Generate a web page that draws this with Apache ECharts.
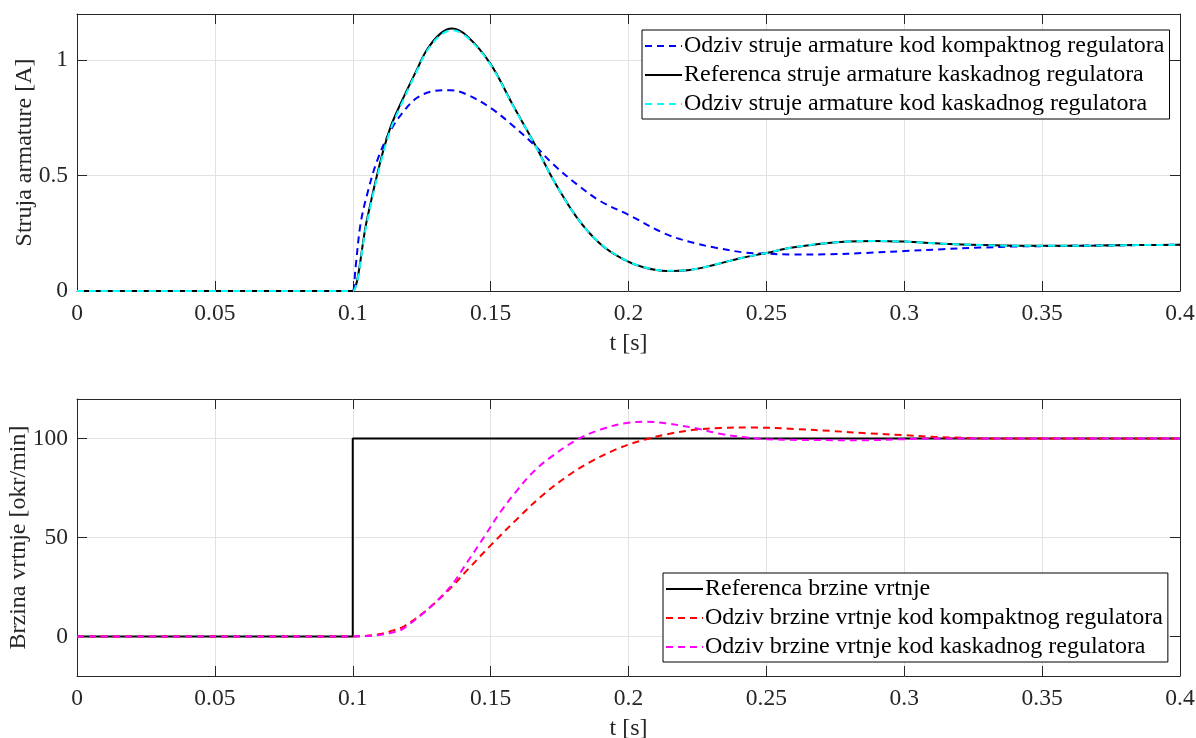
<!DOCTYPE html>
<html>
<head>
<meta charset="utf-8">
<script src="https://cdn.jsdelivr.net/npm/echarts@6/dist/echarts.min.js"></script>
<style>
html,body{margin:0;padding:0;background:#fff;}
#chart{width:1196px;height:738px;}
</style>
</head>
<body>
<div id="chart"></div>
<script>
// ---- Data ----
const xTicks = [0, 0.05, 0.1, 0.15, 0.2, 0.25, 0.3, 0.35, 0.4];

// Top: armature current [A]
const compactCurT = [0, 0.099, 0.1, 0.101, 0.1028, 0.1052, 0.1088, 0.1136, 0.1185, 0.1233, 0.1293, 0.1354, 0.1414, 0.1499, 0.1583, 0.1656, 0.1728, 0.1813, 0.1897, 0.2, 0.2139, 0.2248, 0.2313, 0.2425, 0.25, 0.2588, 0.2726, 0.286, 0.3, 0.3139, 0.3277, 0.341, 0.355, 0.37, 0.385, 0.4];
const compactCurV = [0, 0, 0, 0.10, 0.289, 0.418, 0.563, 0.693, 0.779, 0.837, 0.866, 0.870, 0.851, 0.794, 0.714, 0.635, 0.548, 0.462, 0.390, 0.33, 0.245, 0.205, 0.188, 0.166, 0.162, 0.158, 0.159, 0.165, 0.173, 0.181, 0.188, 0.193, 0.195, 0.197, 0.199, 0.2];

const cascRefCurT = [0, 0.099, 0.1, 0.105, 0.110, 0.1137, 0.1173, 0.1233, 0.1269, 0.1318, 0.136, 0.1414, 0.1499, 0.1583, 0.1656, 0.1728, 0.1813, 0.1897, 0.1982, 0.2054, 0.2139, 0.2216, 0.2313, 0.2409, 0.2501, 0.2588, 0.2698, 0.2795, 0.2891, 0.3001, 0.3139, 0.3277, 0.3415, 0.355, 0.37, 0.385, 0.4];
const cascRefCurV = [0, 0, 0, 0.30, 0.56, 0.71, 0.81, 0.96, 1.045, 1.115, 1.137, 1.105, 0.985, 0.80, 0.645, 0.48, 0.318, 0.205, 0.137, 0.103, 0.087, 0.090, 0.114, 0.143, 0.165, 0.187, 0.205, 0.214, 0.217, 0.214, 0.205, 0.199, 0.196, 0.196, 0.197, 0.199, 0.2];

const cascRespCurT = [0, 0.099, 0.1, 0.105, 0.110, 0.1137, 0.1173, 0.1233, 0.1269, 0.1318, 0.136, 0.1414, 0.1499, 0.1583, 0.1656, 0.1728, 0.1813, 0.1897, 0.1982, 0.2054, 0.2139, 0.2216, 0.2313, 0.2409, 0.2501, 0.2588, 0.2698, 0.2795, 0.2891, 0.3001, 0.3139, 0.3277, 0.3415, 0.355, 0.37, 0.385, 0.4];
const cascRespCurV = [0, 0, 0, 0.29, 0.55, 0.70, 0.80, 0.955, 1.04, 1.108, 1.130, 1.100, 0.982, 0.798, 0.644, 0.48, 0.318, 0.206, 0.138, 0.104, 0.088, 0.091, 0.114, 0.143, 0.165, 0.187, 0.205, 0.214, 0.217, 0.214, 0.205, 0.199, 0.196, 0.196, 0.197, 0.199, 0.2];

// Bottom: speed [okr/min]
const refSpeedT = [0, 0.1, 0.1, 0.4];
const refSpeedV = [0, 0, 100, 100];

const compactSpeedT = [0, 0.1, 0.105, 0.11, 0.115, 0.1186, 0.127, 0.1355, 0.1415, 0.15, 0.1597, 0.1681, 0.1778, 0.1862, 0.1959, 0.2043, 0.214, 0.2237, 0.2333, 0.2442, 0.2611, 0.2741, 0.2863, 0.3, 0.3106, 0.3227, 0.3348, 0.4];
const compactSpeedV = [0, 0, 0.3, 1.2, 3.2, 5.1, 13.5, 24.5, 33.5, 46.0, 59.5, 70.5, 81.0, 88.2, 94.8, 98.8, 102.2, 104.4, 105.4, 105.6, 104.8, 103.8, 102.7, 101.7, 100.9, 100.3, 100, 100];

const cascSpeedT = [0, 0.1, 0.105, 0.11, 0.116, 0.1186, 0.127, 0.1355, 0.1415, 0.1476, 0.1536, 0.1597, 0.1657, 0.1717, 0.1814, 0.1899, 0.1994, 0.2068, 0.214, 0.2237, 0.2333, 0.243, 0.2502, 0.2611, 0.2863, 0.3, 0.31, 0.4];
const cascSpeedV = [0, 0, 0.2, 0.8, 2.5, 4.2, 13.5, 25.3, 37.5, 50.2, 63.0, 74.0, 83.5, 90.5, 99.5, 104.6, 107.9, 108.5, 107.6, 105.4, 102.4, 100.5, 99.7, 99.3, 99.2, 99.7, 100, 100];

const namesTop = ['Odziv struje armature kod kompaktnog regulatora', 'Referenca struje armature kaskadnog regulatora', 'Odziv struje armature kod kaskadnog regulatora'];
const namesBottom = ['Referenca brzine vrtnje', 'Odziv brzine vrtnje kod kompaktnog regulatora', 'Odziv brzine vrtnje kod kaskadnog regulatora'];

// ---- Helpers ----
const zip = (t, v) => t.map((x, i) => [x, v[i]]);
const FONT = 'Liberation Serif';
const AX = '#262626';
const GRIDC = '#e2e2e2';
const TICKFS = 23.5;
const NAMEFS = 24;
const fmtX = v => String(+v.toFixed(2));

function xAxisPair(gi) {
  return [{
    type: 'value', gridIndex: gi, min: xTicks[0], max: xTicks[xTicks.length - 1], interval: 0.05, position: 'bottom',
    axisLine: {show: true, onZero: false, lineStyle: {color: AX, width: 1}},
    axisTick: {show: true, inside: true, length: 10, lineStyle: {color: AX}},
    axisLabel: {color: AX, fontFamily: FONT, fontSize: TICKFS, margin: 11, formatter: fmtX},
    splitLine: {show: true, lineStyle: {color: GRIDC, width: 1}},
    name: 't [s]', nameLocation: 'middle', nameGap: 41, nameMoveOverlap: false,
    nameTextStyle: {color: AX, fontFamily: FONT, fontSize: NAMEFS}
  }, {
    type: 'value', gridIndex: gi, min: xTicks[0], max: xTicks[xTicks.length - 1], interval: 0.05, position: 'top',
    axisLine: {show: true, onZero: false, lineStyle: {color: AX, width: 1}},
    axisTick: {show: true, inside: true, length: 10, lineStyle: {color: AX}},
    axisLabel: {show: false}, splitLine: {show: false}
  }];
}
function yAxisPair(gi, min, max, scaleOpt, name, fmt, gap) {
  const base = {
    type: 'value', gridIndex: gi, min: min, max: max,
    axisLine: {show: true, onZero: false, lineStyle: {color: AX, width: 1}},
    axisTick: {show: true, inside: true, length: 10, lineStyle: {color: AX}}
  };
  return [Object.assign({}, base, scaleOpt, {
    position: 'left',
    axisLabel: {color: AX, fontFamily: FONT, fontSize: TICKFS, margin: 9, showMinLabel: min === 0, showMaxLabel: false, formatter: fmt},
    splitLine: {show: true, lineStyle: {color: GRIDC, width: 1}},
    name: name, nameLocation: 'middle', nameGap: gap, nameRotate: 90, nameMoveOverlap: false,
    nameTextStyle: {color: AX, fontFamily: FONT, fontSize: NAMEFS}
  }), Object.assign({}, base, scaleOpt, {
    position: 'right',
    axisLabel: {show: false}, splitLine: {show: false}
  })];
}

const DASH = [7, 5];
function line(name, data, color, dashed, xi, yi, z) {
  return {
    type: 'line', name: name, data: data, xAxisIndex: xi, yAxisIndex: yi,
    symbol: 'none', showSymbol: false, smooth: 0.35, z: z,
    lineStyle: {color: color, width: 2, type: dashed ? DASH : 'solid'},
    itemStyle: {color: color}, animation: false
  };
}

const chart = echarts.init(document.getElementById('chart'), null, {renderer: 'canvas'});
const xs = xAxisPair(0).concat(xAxisPair(1));
const ys = yAxisPair(0, 0, 1.2, {interval: 0.5}, 'Struja armature [A]', v => String(+v.toFixed(2)), 40)
  .concat(yAxisPair(1, -20, 120, {splitNumber: 3}, 'Brzina vrtnje [okr/min]', v => String(Math.round(v)), 46));

const refSeries = line(namesBottom[0], zip(refSpeedT, refSpeedV), '#000000', false, 2, 2, 3);
refSeries.smooth = false;

const legendBase = {
  orient: 'vertical',
  backgroundColor: '#fff', borderColor: '#000', borderWidth: 1,
  padding: [4, 5, 3, 2], itemWidth: 37, itemHeight: 2, itemGap: 5,
  itemStyle: {opacity: 0},
  textStyle: {fontFamily: FONT, fontSize: NAMEFS, color: '#000', padding: [0, 0, 0, -3]}
};

chart.setOption({
  animation: false,
  backgroundColor: '#ffffff',
  grid: [
    {left: 77, top: 14, width: 1103, height: 277, containLabel: false, outerBoundsMode: 'none'},
    {left: 77, top: 399, width: 1103, height: 277, containLabel: false, outerBoundsMode: 'none'}
  ],
  xAxis: xs,
  yAxis: ys,
  legend: [
    Object.assign({}, legendBase, {data: namesTop, left: 642, top: 30}),
    Object.assign({}, legendBase, {data: namesBottom, left: 663, top: 573})
  ],
  series: [
    line(namesTop[0], zip(compactCurT, compactCurV), '#0000ff', true, 0, 0, 2),
    line(namesTop[1], zip(cascRefCurT, cascRefCurV), '#000000', false, 0, 0, 3),
    line(namesTop[2], zip(cascRespCurT, cascRespCurV), '#00ffff', true, 0, 0, 4),
    refSeries,
    line(namesBottom[1], zip(compactSpeedT, compactSpeedV), '#ff0000', true, 2, 2, 4),
    line(namesBottom[2], zip(cascSpeedT, cascSpeedV), '#ff00ff', true, 2, 2, 5)
  ]
});
</script>
</body>
</html>
